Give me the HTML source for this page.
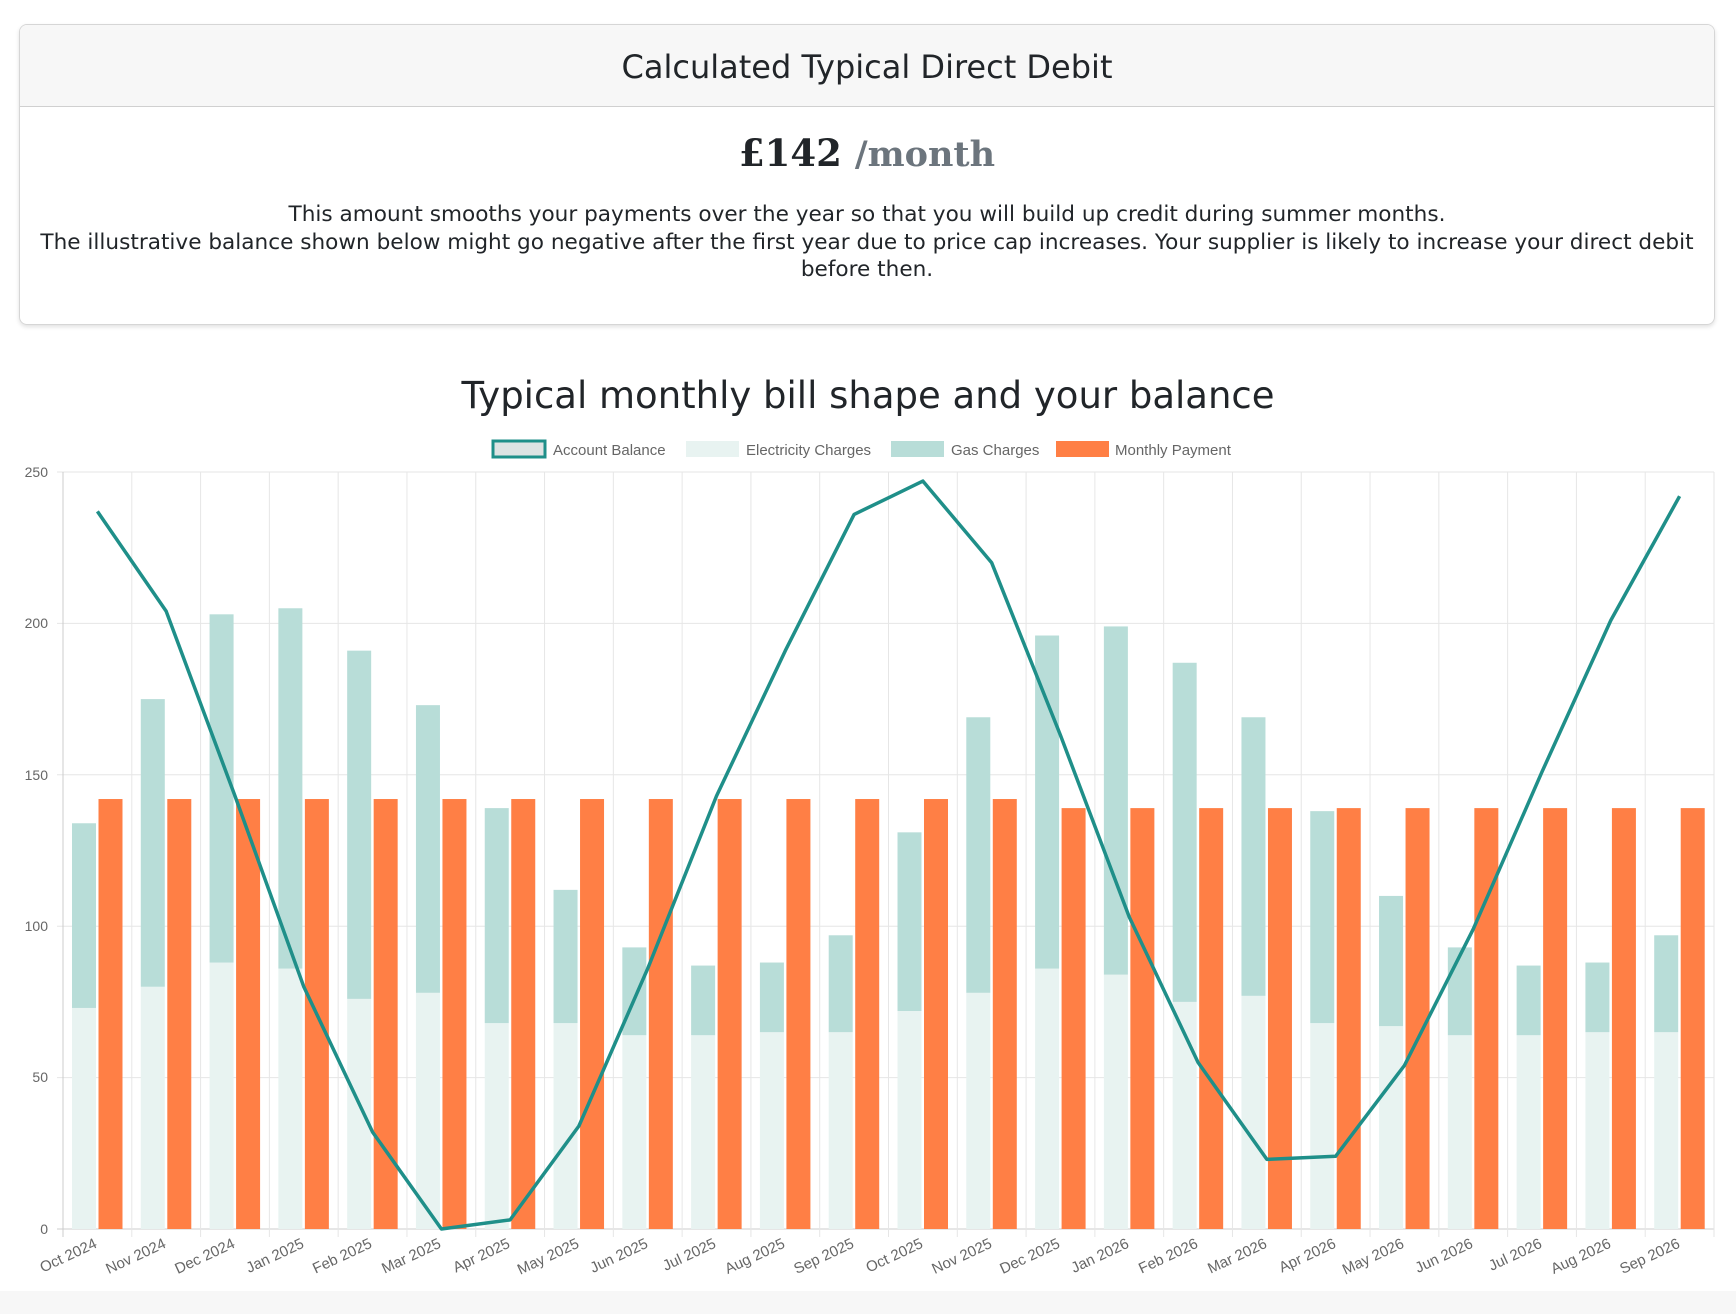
<!DOCTYPE html>
<html><head><meta charset="utf-8"><style>
body{margin:0;width:1736px;height:1314px;background:#fff;font-family:"DejaVu Sans","Liberation Sans",sans-serif;color:#212529;position:relative;overflow:hidden}
.card{position:absolute;left:19px;top:24px;width:1694px;height:299px;border:1px solid #d6d6d6;border-radius:8px;box-shadow:0 2px 4px rgba(0,0,0,.12);overflow:hidden}
.hd{height:81px;background:#f7f7f7;border-bottom:1px solid #d0d0d0;text-align:center;font-size:32px;line-height:84px}
.amt{text-align:center;margin-top:21px;font-family:"DejaVu Serif","Liberation Serif",serif;font-weight:bold;font-size:37px;line-height:50px}
.amt span{color:#6c757d;font-weight:bold;font-size:35px}
.p{text-align:center;font-size:21.6px;line-height:27.5px;margin-top:21px;padding:0 10px}
.t{position:absolute;top:371px;left:0;width:1736px;text-align:center;font-size:37px;line-height:50px}
.band{position:absolute;left:0;top:1291px;width:1736px;height:23px;background:#f7f7f7}
svg{position:absolute;left:0;top:0}
</style></head><body>
<div class="card"><div class="hd">Calculated Typical Direct Debit</div>
<div class="amt">£142 <span>/month</span></div>
<div class="p">This amount smooths your payments over the year so that you will build up credit during summer months.<br><span style="white-space:nowrap">The illustrative balance shown below might go negative after the first year due to price cap increases. Your supplier is likely to increase your direct debit</span><br>before then.</div></div>
<div class="t">Typical monthly bill shape and your balance</div>
<div class="band"></div>
<svg width="1736" height="1314" font-family="Liberation Sans, sans-serif">
<g id="grid"></g><g id="bars"></g><g id="line"></g>
<g font-size="15" fill="#666">
<rect x="493" y="441" width="52" height="16" fill="#dde3e3" stroke="#1f8f89" stroke-width="3"/><text x="553" y="455">Account Balance</text>
<rect x="686" y="441" width="53" height="16" fill="#e8f3f1"/><text x="746" y="455">Electricity Charges</text>
<rect x="891" y="441" width="53" height="16" fill="#b8ddd8"/><text x="951" y="455">Gas Charges</text>
<rect x="1056" y="441" width="53" height="16" fill="#ff7f45"/><text x="1115" y="455">Monthly Payment</text>
</g>
<g font-size="14" fill="#666" text-anchor="end">
<text x="48" y="477">250</text><text x="48" y="628">200</text><text x="48" y="780">150</text><text x="48" y="931">100</text><text x="48" y="1082">50</text><text x="48" y="1234">0</text>
</g>
<g font-size="15" fill="#666" text-anchor="end" id="xl">
<text transform="translate(98,1247) rotate(-25)">Oct 2024</text>
<text transform="translate(167,1247) rotate(-25)">Nov 2024</text>
<text transform="translate(236,1247) rotate(-25)">Dec 2024</text>
<text transform="translate(305,1247) rotate(-25)">Jan 2025</text>
<text transform="translate(373,1247) rotate(-25)">Feb 2025</text>
<text transform="translate(442,1247) rotate(-25)">Mar 2025</text>
<text transform="translate(511,1247) rotate(-25)">Apr 2025</text>
<text transform="translate(580,1247) rotate(-25)">May 2025</text>
<text transform="translate(649,1247) rotate(-25)">Jun 2025</text>
<text transform="translate(717,1247) rotate(-25)">Jul 2025</text>
<text transform="translate(786,1247) rotate(-25)">Aug 2025</text>
<text transform="translate(855,1247) rotate(-25)">Sep 2025</text>
<text transform="translate(924,1247) rotate(-25)">Oct 2025</text>
<text transform="translate(993,1247) rotate(-25)">Nov 2025</text>
<text transform="translate(1061,1247) rotate(-25)">Dec 2025</text>
<text transform="translate(1130,1247) rotate(-25)">Jan 2026</text>
<text transform="translate(1199,1247) rotate(-25)">Feb 2026</text>
<text transform="translate(1268,1247) rotate(-25)">Mar 2026</text>
<text transform="translate(1337,1247) rotate(-25)">Apr 2026</text>
<text transform="translate(1405,1247) rotate(-25)">May 2026</text>
<text transform="translate(1474,1247) rotate(-25)">Jun 2026</text>
<text transform="translate(1543,1247) rotate(-25)">Jul 2026</text>
<text transform="translate(1612,1247) rotate(-25)">Aug 2026</text>
<text transform="translate(1681,1247) rotate(-25)">Sep 2026</text>
</g>
</svg>
<script>
var L=63,R=1714,T=472,B=1229,n=24,cw=(R-L)/n,k=(B-T)/250;
function Y(v){return B-v*k}
var el=[73,80,88,86,76,78,68,68,64,64,65,65,72,78,86,84,75,77,68,67,64,64,65,65];
var tot=[134,175,203,205,191,173,139,112,93,87,88,97,131,169,196,199,187,169,138,110,93,87,88,97];
var bal=[237,204,143,80,32,0,3,34,86,143,191,236,247,220,163,103,55,23,24,54,99,151,201,242];
var g='',b='',s=[];
for(var v=0;v<=250;v+=50)g+='<line x1="'+(L-6)+'" x2="'+R+'" y1="'+Y(v)+'" y2="'+Y(v)+'" stroke="'+(v==0?'#ccc':'#e6e6e6')+'"/>';
for(var i=0;i<=n;i++){var x=L+i*cw;g+='<line x1="'+x+'" x2="'+x+'" y1="'+T+'" y2="'+(B+8)+'" stroke="'+(i==0?'#ccc':'#e6e6e6')+'"/>';}
for(var i=0;i<n;i++){var x=L+i*cw,pay=i<14?142:139;
b+='<rect x="'+(x+9)+'" y="'+Y(el[i])+'" width="24" height="'+(el[i]*k)+'" fill="#e8f3f1"/>';
b+='<rect x="'+(x+9)+'" y="'+Y(tot[i])+'" width="24" height="'+((tot[i]-el[i])*k)+'" fill="#b8ddd8"/>';
b+='<rect x="'+(x+35.5)+'" y="'+Y(pay)+'" width="24" height="'+(pay*k)+'" fill="#ff7f45"/>';
s.push((x+cw/2).toFixed(1)+','+Y(bal[i]).toFixed(1));}
document.getElementById('grid').innerHTML=g;
document.getElementById('bars').innerHTML=b;
document.getElementById('line').innerHTML='<polyline points="'+s.join(' ')+'" fill="none" stroke="#1f8f89" stroke-width="3.5" stroke-linejoin="round"/>';
</script>
</body></html>
